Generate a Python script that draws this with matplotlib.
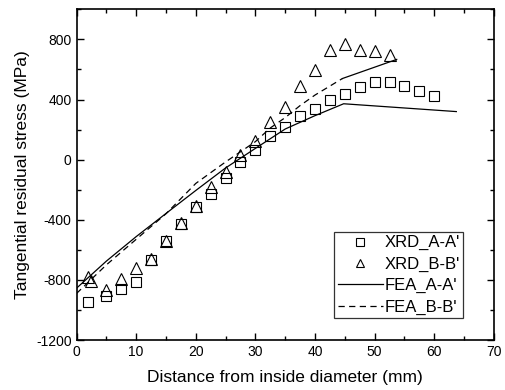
import matplotlib
matplotlib.use("Agg")
import matplotlib.pyplot as plt
from matplotlib.ticker import MultipleLocator

plt.rcParams['font.family'] = ['Liberation Sans', 'DejaVu Sans']
plt.rcParams['axes.unicode_minus'] = False

# XRD measurements
xrd_a_x = [2, 5, 7.5, 10, 12.5, 15, 17.5, 20, 22.5, 25, 27.5, 30, 32.5, 35,
           37.5, 40, 42.5, 45, 47.5, 50, 52.5, 55, 57.5, 60]
xrd_a_y = [-950, -905, -860, -815, -670, -538, -428, -318, -227, -122, -18, 62,
           160, 218, 289, 340, 395, 440, 485, 515, 520, 487, 455, 422]

xrd_b_x = [2, 2.5, 5, 7.5, 10, 12.5, 15, 17.5, 20, 22.5, 25, 27.5, 30, 32.5,
           35, 37.5, 40, 42.5, 45, 47.5, 50, 52.5]
xrd_b_y = [-780, -805, -867, -795, -722, -660, -538, -422, -311, -184, -82, 29,
           122, 249, 349, 487, 595, 727, 771, 729, 722, 695]

# FEA results
fea_a_x = [0, 5, 10, 15, 20, 25, 30, 35, 40, 44.8, 63.7]
fea_a_y = [-855, -675, -512, -358, -205, -55, 75, 204, 293, 372, 320]

fea_b_x = [0, 5, 10, 15, 20, 25, 30, 32.5, 35, 37.5, 40, 44.6]
fea_b_y = [-890, -700, -530, -360, -158, -15, 120, 211, 280, 360, 430, 540]
fea_b_tail_x = [44.6, 53.7]
fea_b_tail_y = [540, 667]

fig = plt.figure(figsize=(5.05, 3.9), dpi=100)
ax = fig.add_axes([0.1515, 0.128, 0.8265, 0.848])

ax.plot(xrd_a_x, xrd_a_y, linestyle='none', marker='s', markersize=7,
        markerfacecolor='none', markeredgecolor='black', markeredgewidth=0.8,
        label="XRD_A-A'")
ax.plot(xrd_b_x, xrd_b_y, linestyle='none', marker='^', markersize=8,
        markerfacecolor='none', markeredgecolor='black', markeredgewidth=0.8,
        label="XRD_B-B'")
ax.plot(fea_a_x, fea_a_y, color='black', linewidth=0.9, label="FEA_A-A'")
ax.plot(fea_b_x, fea_b_y, color='black', linewidth=0.9,
        linestyle=(0, (5, 3.5)), label="FEA_B-B'")
ax.plot(fea_b_tail_x, fea_b_tail_y, color='black', linewidth=0.9)

ax.set_xlim(0, 70)
ax.set_ylim(-1200, 1000)
ax.xaxis.set_major_locator(MultipleLocator(10))
ax.xaxis.set_minor_locator(MultipleLocator(5))
ax.yaxis.set_major_locator(MultipleLocator(400))
ax.yaxis.set_minor_locator(MultipleLocator(200))
ax.tick_params(which='both', direction='in', top=True, right=True,
               labelsize=10, width=1)
ax.tick_params(which='major', length=5)
ax.tick_params(which='minor', length=3)
for s in ax.spines.values():
    s.set_linewidth(1.2)

ax.set_xlabel("Distance from inside diameter (mm)", fontsize=12.5, labelpad=8)
ax.set_ylabel("Tangential residual stress (MPa)", fontsize=12.5, labelpad=4)

leg = ax.legend(loc='lower right', bbox_to_anchor=(0.926, 0.066), fontsize=12,
                frameon=True, fancybox=False, edgecolor='black',
                handlelength=2.7, handletextpad=0.1, labelspacing=0.38,
                borderpad=0.2, borderaxespad=0, markerscale=0.75)
leg.get_frame().set_linewidth(0.9)

fig.savefig("out.png", dpi=100)
